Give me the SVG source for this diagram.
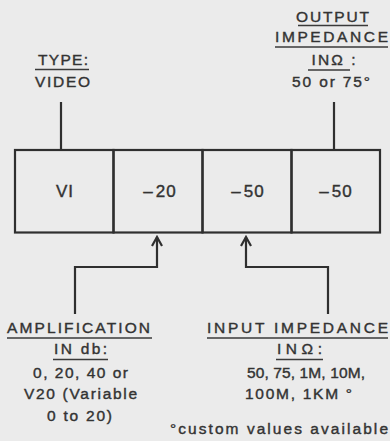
<svg xmlns="http://www.w3.org/2000/svg" width="390" height="441" viewBox="0 0 390 441">
<defs>
<style>
.bg{fill:#ebebeb}
.cell{fill:none;stroke:#2f2f2f;stroke-width:2.2}
.t{font-family:"Liberation Sans","DejaVu Sans",sans-serif;font-size:15.5px;fill:#333;stroke:#333;stroke-width:0.4;text-anchor:middle}
.c{font-size:17px;letter-spacing:1px}
.ul{stroke:#3a3a3a;stroke-width:1.6}
.conn{fill:none;stroke:#2f2f2f;stroke-width:2.2}
</style>
<marker id="chev" markerUnits="userSpaceOnUse" viewBox="-11 -7 13 14" markerWidth="13" markerHeight="14" refX="0" refY="0" orient="auto">
<path d="M-9,-5 L0,0 L-9,5" fill="none" stroke="#2f2f2f" stroke-width="2.2"/>
</marker>
</defs>
<rect class="bg" x="0" y="0" width="390" height="441"/>

<g id="connectors">
<path class="conn" d="M61 102 V150"/>
<path class="conn" d="M334 102 V150"/>
<path class="conn" d="M75 314 V267 H157 V237" marker-end="url(#chev)"/>
<path class="conn" d="M328 314 V267 H246 V237" marker-end="url(#chev)"/>
</g>

<g id="cell-type">
<rect class="cell" x="15" y="150" width="98.5" height="82.5"/>
<text class="t c" x="65" y="197" letter-spacing="2">VI</text>
</g>
<g id="cell-amplification">
<rect class="cell" x="113.5" y="150" width="89" height="82.5"/>
<text class="t c" x="160" y="197">–<tspan dx="2">20</tspan></text>
</g>
<g id="cell-input">
<rect class="cell" x="202.5" y="150" width="89" height="82.5"/>
<text class="t c" x="248" y="197">–<tspan dx="2">50</tspan></text>
</g>
<g id="cell-output">
<rect class="cell" x="291.5" y="150" width="88.5" height="82.5"/>
<text class="t c" x="336" y="197">–<tspan dx="2">50</tspan></text>
</g>

<g id="label-type">
<text class="t" x="63" y="65" textLength="50" lengthAdjust="spacing">TYPE:</text>
<line class="ul" x1="35" y1="69.5" x2="89" y2="69.5"/>
<text class="t" x="62.5" y="86.5" textLength="55" lengthAdjust="spacing">VIDEO</text>
</g>

<g id="label-output">
<text class="t" x="332.5" y="21.5" textLength="73" lengthAdjust="spacing">OUTPUT</text>
<line class="ul" x1="298" y1="25.5" x2="368" y2="25.5"/>
<text class="t" x="331.5" y="41.5" textLength="113" lengthAdjust="spacing">IMPEDANCE</text>
<line class="ul" x1="275" y1="47" x2="388" y2="47"/>
<text class="t" x="333.5" y="65" textLength="44" lengthAdjust="spacing">INΩ :</text>
<line class="ul" x1="308" y1="70" x2="350" y2="70"/>
<text class="t" x="331" y="87" textLength="78" lengthAdjust="spacing">50 or 75°</text>
</g>

<g id="label-amplification">
<text class="t" x="78.5" y="332.7" textLength="143" lengthAdjust="spacing">AMPLIFICATION</text>
<line class="ul" x1="7" y1="338" x2="152" y2="338"/>
<text class="t" x="80.5" y="354" textLength="53" lengthAdjust="spacing">IN db:</text>
<line class="ul" x1="53" y1="359.5" x2="108" y2="359.5"/>
<text class="t" x="80.5" y="377.5" textLength="95" lengthAdjust="spacing">0, 20, 40 or</text>
<text class="t" x="80.5" y="399.3" textLength="113" lengthAdjust="spacing">V20 (Variable</text>
<text class="t" x="79.5" y="421" textLength="65" lengthAdjust="spacing">0 to 20)</text>
</g>

<g id="label-input">
<text class="t" x="297.5" y="332.7" textLength="181" lengthAdjust="spacing">INPUT  IMPEDANCE</text>
<line class="ul" x1="207" y1="338" x2="388" y2="338"/>
<text class="t" x="299.5" y="354" textLength="45" lengthAdjust="spacing">INΩ:</text>
<line class="ul" x1="276" y1="359.5" x2="323" y2="359.5"/>
<text class="t" x="306" y="377.5" textLength="118" lengthAdjust="spacing">50, 75, 1M, 10M,</text>
<text class="t" x="298.5" y="398.5" textLength="107" lengthAdjust="spacing">100M, 1KM °</text>
</g>

<g id="footnote">
<text class="t" x="279" y="433.5" textLength="218" lengthAdjust="spacing">°custom values available</text>
</g>
</svg>
